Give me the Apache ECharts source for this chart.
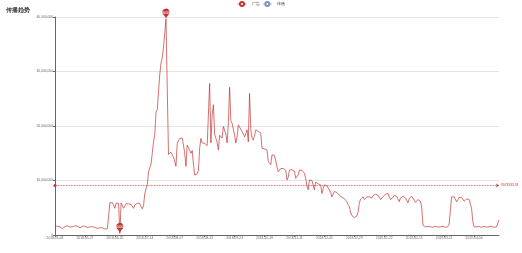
<!DOCTYPE html>
<html>
<head>
<meta charset="utf-8">
<script src="https://cdn.jsdelivr.net/npm/echarts@6/dist/echarts.min.js"></script>
<style>html,body{margin:0;padding:0;background:#fff}#c{width:522px;height:253px}</style>
</head>
<body>
<div id="c"></div>
<script>
var titleText = '传播趋势';
var seriesNames = ['广告', '传播'];
var seriesColors = ['#c23531', '#7b93c4'];
var startDate = '2018-05-03';
var dayCount = 357;
var yTicks = [0, 10000000, 20000000, 30000000, 40000000];

var seriesA = [
1650000,1720000,1600000,1580000,1500000,1300000,1150000,
1200000,1550000,1680000,1700000,1620000,1450000,1350000,
1500000,1650000,1700000,1680000,1600000,1400000,1300000,
1550000,1620000,1650000,1600000,1550000,1350000,1280000,
1500000,1550000,1520000,1480000,1400000,1250000,1200000,
1300000,1350000,1320000,1300000,1200000,1100000,1080000,
1150000,1250000,
5900000,5850000,5950000,5700000,4900000,5850000,5900000,5800000,300000,5900000,
5700000,4900000,5300000,5750000,5800000,5700000,5750000,5600000,5300000,4900000,
5500000,5800000,5850000,5700000,5750000,5200000,4800000,5400000,
7600000,8500000,9200000,11600000,11800000,13000000,15000000,17100000,18500000,22500000,
23000000,23200000,29500000,31500000,32500000,34500000,37000000,39600000,
27000000,14800000,14600000,15200000,15400000,14300000,13500000,12600000,16800000,17300000,
17700000,17900000,17800000,16500000,15000000,12600000,16500000,16000000,15800000,15000000,
15500000,13000000,11000000,10900000,11200000,11900000,16000000,17700000,16900000,16900000,
16800000,16800000,16400000,16300000,27800000,16900000,22000000,23900000,18500000,18300000,
17000000,15600000,18300000,18000000,17800000,19900000,19900000,18500000,16900000,20500000,
27100000,21000000,20500000,20200000,18300000,16900000,18000000,20200000,19900000,19400000,
19000000,18700000,18000000,18600000,19300000,17100000,26000000,19300000,17800000,17400000,
17100000,19300000,19200000,19000000,18900000,18700000,15900000,15600000,15800000,15900000,
15600000,13500000,13200000,12900000,14700000,14500000,14600000,14500000,12500000,11600000,
11300000,12200000,12100000,12200000,12100000,11900000,10100000,10600000,11900000,11900000,
12000000,11800000,11700000,10400000,10100000,11000000,11900000,12200000,11900000,11600000,
11300000,10400000,9000000,8300000,10100000,10400000,10000000,9700000,8300000,9700000,
9500000,9400000,9400000,9200000,7600000,8500000,9200000,9200000,9000000,8800000,
8300000,7800000,7000000,7500000,8000000,8000000,7800000,7600000,7300000,7000000,
6900000,6800000,6700000,6500000,6100000,5600000,5200000,4200000,3600000,3400000,
3200000,3300000,3500000,4200000,5800000,6600000,6900000,7000000,6500000,6800000,
7000000,6800000,7000000,6900000,6800000,7200000,7000000,7500000,7600000,7300000,
7000000,6500000,6300000,7000000,7300000,7500000,7600000,7600000,7000000,6500000,
6300000,6900000,7300000,7200000,7100000,6900000,6100000,6800000,7000000,7100000,
7000000,6800000,6500000,5900000,6700000,7000000,7100000,6900000,6400000,6000000,
5800000,6500000,6500000,6200000,5200000,
1800000,1500000,
1500000,1450000,1550000,1600000,1500000,1400000,1450000,1550000,1600000,1500000,
1450000,1400000,1500000,1550000,1600000,1500000,1400000,1450000,1550000,
2000000,4500000,7000000,7100000,7000000,6800000,6100000,6500000,6900000,7000000,
6900000,6600000,6200000,6100000,6600000,6700000,6500000,6300000,4900000,2500000,
1500000,
1400000,1500000,1600000,1550000,1450000,1400000,1500000,1600000,1550000,1450000,
1400000,1500000,1550000,1600000,1500000,1400000,1450000,1500000,1550000,
2750000
];
var seriesB = [];

var categories = [];
(function () {
  var p = startDate.split('-');
  var d0 = Date.UTC(+p[0], +p[1] - 1, +p[2]);
  for (var i = 0; i < dayCount; i++) {
    var d = new Date(d0 + i * 86400000);
    var m = d.getUTCMonth() + 1, dd = d.getUTCDate();
    categories.push(d.getUTCFullYear() + '-' + (m < 10 ? '0' : '') + m + '-' + (dd < 10 ? '0' : '') + dd);
  }
})();

function fmt(v) { return String(v).replace(/\B(?=(\d{3})+(?!\d))/g, ','); }

var chart = echarts.init(document.getElementById('c'));
chart.setOption({
  animation: false,
  color: seriesColors,
  title: { text: titleText, left: 1, top: 2, textStyle: { fontSize: 5.5, fontWeight: 'bold', color: '#333' } },
  legend: {
    data: seriesNames, top: 1, left: 'center', itemWidth: 9, itemHeight: 5, itemGap: 3,
    itemStyle: { borderWidth: 0.6 },
    lineStyle: { width: 0.7 },
    textStyle: { fontSize: 3.5, color: '#333' }, padding: 0
  },
  grid: { left: 55, right: 23, top: 17, bottom: 18, containLabel: false },
  xAxis: {
    type: 'category', data: categories, boundaryGap: false,
    axisLine: { lineStyle: { color: '#666', width: 1 } },
    axisTick: { show: true, interval: 23, length: 2, alignWithLabel: true },
    axisLabel: { interval: 23, fontSize: 3.3, color: '#666', margin: 2 }
  },
  yAxis: {
    type: 'value', min: yTicks[0], max: yTicks[yTicks.length - 1], interval: yTicks[1] - yTicks[0],
    axisLine: { show: true, lineStyle: { color: '#666', width: 1 } },
    axisTick: { show: true, length: 2 },
    axisLabel: { fontSize: 3.3, color: '#666', margin: 2, formatter: fmt },
    splitLine: { lineStyle: { color: '#e3e3e3' } }
  },
  series: [
    {
      name: seriesNames[0], type: 'line', data: seriesA, showSymbol: false, symbol: 'emptyCircle',
      lineStyle: { width: 0.7, color: seriesColors[0] },
      markPoint: {
        symbolSize: 12,
        itemStyle: { color: seriesColors[0] },
        label: { fontSize: 2.8, color: '#fff' },
        data: [{ type: 'max', name: '最大值' }, { type: 'min', name: '最小值' }]
      },
      markLine: {
        symbol: ['circle', 'arrow'], symbolSize: 3,
        lineStyle: { type: 'dotted', width: 0.8, color: seriesColors[0] },
        label: { fontSize: 3.3, distance: 2, color: seriesColors[0] },
        data: [{ type: 'average', name: '平均值' }]
      }
    },
    { name: seriesNames[1], type: 'line', data: seriesB, showSymbol: false, symbol: 'emptyCircle' }
  ]
});
</script>
</body>
</html>
